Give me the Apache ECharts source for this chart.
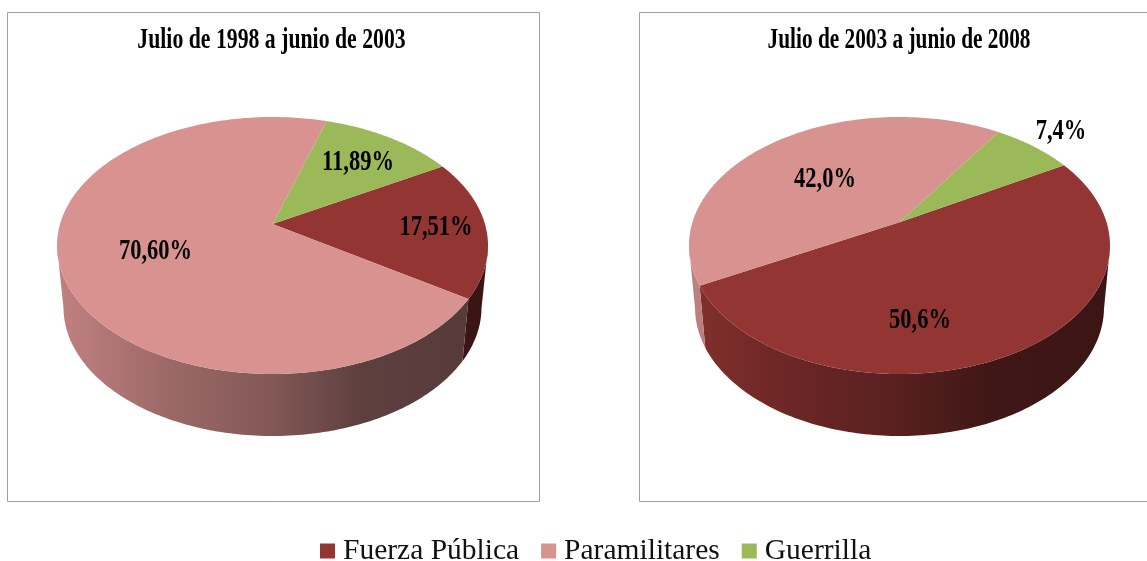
<!DOCTYPE html>
<html>
<head>
<meta charset="utf-8">
<style>
  html, body { margin: 0; padding: 0; background: #fff; overflow: hidden; }
  #main { width: 1147px; height: 561px; }
</style>
<script src="https://cdn.jsdelivr.net/npm/echarts@6/dist/echarts.min.js"></script>
</head>
<body>
<div id="main"></div>
<script>
const categories = ['Fuerza Pública', 'Paramilitares', 'Guerrilla']
const periods = ['Julio de 1998 a junio de 2003', 'Julio de 2003 a junio de 2008']
const values1998 = [17.51, 70.60, 11.89]
const values2003 = [50.6, 42.0, 7.4]
const decimals = [2, 1]

const colors = ['#933533', '#d89290', '#9bb958']
const firstSliceAngle = 60

// top ellipse, bottom ellipse and the perspective shift of the pie centre
const pies = [
  { cx: 272.5, cy: 245.5, rx: 215.5, ry: 128.5, bx: 272.5, by: 307.5, brx: 209, bry: 128.5, shift: 0.167, frame: [7, 12, 532, 489], titleX: 271.5, titleScale: 0.75 },
  { cx: 899.5, cy: 245.5, rx: 210.5, ry: 128.5, bx: 899.5, by: 307.5, brx: 204.5, bry: 128.5, shift: 0.18, frame: [639, 12, 540, 489], titleX: 899, titleScale: 0.735 }
]
const labelAnchors = [
  [[436, 227], [155.5, 251], [358, 162]],
  [[920, 320], [825, 179], [1061, 131]]
]
const pieValues = [values1998, values2003]
const sideShades = [[0, 0.88], [0.25, 0.72], [0.5, 0.6], [0.72, 0.43], [1, 0.4]]

function startOf(pieIdx, catIdx) {
  let sum = 0
  for (let i = 0; i < catIdx; i++) sum += pieValues[pieIdx][i]
  return sum
}

// circle angle (clockwise from the top) to normalised ellipse point
function project(deg, shift) {
  const a = deg * Math.PI / 180
  const u = Math.sin(a)
  const v = -Math.cos(a)
  const d = 1 - shift * v
  return [u * Math.sqrt(1 - shift * shift) / d, (v - shift) / d]
}

function shadeColor(hex, f) {
  const n = parseInt(hex.slice(1), 16)
  const r = Math.round((n >> 16) * f)
  const g = Math.round(((n >> 8) & 255) * f)
  const b = Math.round((n & 255) * f)
  return 'rgb(' + r + ',' + g + ',' + b + ')'
}

function renderSlice(catIdx) {
  return function (params, api) {
    const pieIdx = api.value(0)
    const value = api.value(1)
    const pie = pies[pieIdx]
    const from = firstSliceAngle + startOf(pieIdx, catIdx) * 3.6
    const to = from + value * 3.6
    const topPts = [[pie.cx, pie.cy - pie.shift * pie.ry]]
    const sideTop = []
    const sideBottom = []
    for (let deg = from; ; deg += 1) {
      const d = Math.min(deg, to)
      const p = project(d, pie.shift)
      topPts.push([pie.cx + pie.rx * p[0], pie.cy + pie.ry * p[1]])
      if (p[1] >= 0) {
        sideTop.push([pie.cx + pie.rx * p[0], pie.cy + pie.ry * p[1]])
        sideBottom.unshift([pie.bx + pie.brx * p[0], pie.by + pie.bry * p[1]])
      }
      if (d >= to) break
    }
    const children = []
    if (sideTop.length > 1) {
      const stops = sideShades.map(function (s) {
        return { offset: s[0], color: shadeColor(colors[catIdx], s[1]) }
      })
      children.push({
        type: 'polygon',
        z2: 1,
        shape: { points: sideTop.concat(sideBottom) },
        style: {
          fill: new echarts.graphic.LinearGradient(pie.bx - pie.brx, 0, pie.bx + pie.brx, 0, stops, true)
        }
      })
    }
    children.push({
      type: 'polygon',
      z2: 2,
      shape: { points: topPts },
      style: { fill: colors[catIdx] }
    })
    const anchor = labelAnchors[pieIdx][catIdx]
    children.push({
      type: 'text',
      z2: 3,
      x: anchor[0],
      y: anchor[1],
      scaleX: 0.75,
      style: {
        text: value.toFixed(decimals[pieIdx]).replace('.', ',') + '%',
        font: 'bold 30px "Liberation Serif"',
        fill: '#000',
        textAlign: 'center',
        textVerticalAlign: 'middle'
      }
    })
    return { type: 'group', children: children }
  }
}

const chart = echarts.init(document.getElementById('main'))

const option = {
  backgroundColor: '#fff',
  animation: false,
  legend: {
    left: 315,
    top: 531,
    icon: 'rect',
    itemWidth: 15,
    itemHeight: 15,
    itemGap: 22,
    data: categories,
    textStyle: {
      color: '#111',
      fontFamily: 'Liberation Serif',
      fontSize: 29.5,
      padding: [0, 0, 0, 3]
    }
  },
  graphic: pies.map(function (pie, i) {
    return {
      type: 'group',
      children: [{
        type: 'rect',
        shape: { x: pie.frame[0] + 0.5, y: pie.frame[1] + 0.5, width: pie.frame[2], height: pie.frame[3] },
        style: { fill: '#fff', stroke: '#a0a0a0', lineWidth: 1 },
        z: -10
      }, {
        type: 'text',
        x: pie.titleX,
        y: 41,
        scaleX: pie.titleScale,
        style: {
          text: periods[i],
          font: 'bold 29px "Liberation Serif"',
          fill: '#000',
          textAlign: 'center',
          textVerticalAlign: 'middle'
        }
      }]
    }
  }),
  series: categories.map(function (name, catIdx) {
    return {
      name: name,
      type: 'custom',
      coordinateSystem: 'none',
      itemStyle: { color: colors[catIdx] },
      renderItem: renderSlice(catIdx),
      data: [[0, values1998[catIdx]], [1, values2003[catIdx]]]
    }
  })
}

chart.setOption(option)
</script>
</body>
</html>
